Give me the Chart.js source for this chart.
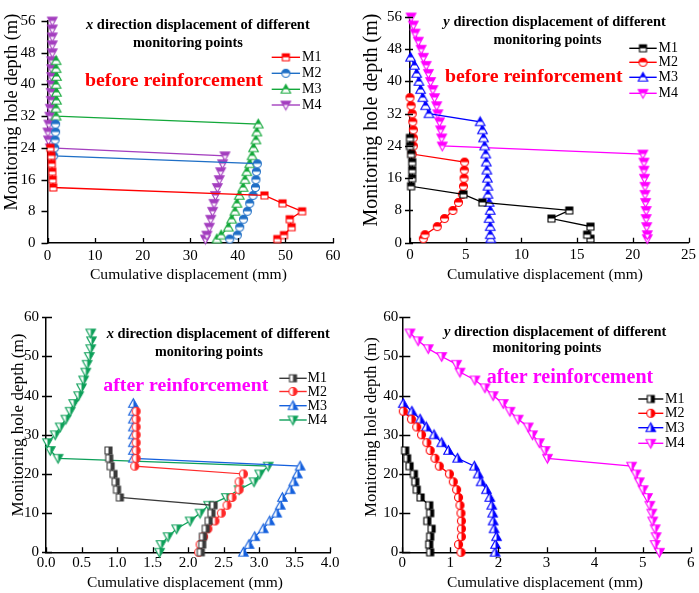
<!DOCTYPE html>
<html><head><meta charset="utf-8">
<script src="https://cdn.jsdelivr.net/npm/chart.js@4.4.1/dist/chart.umd.min.js"></script>
<style>
html,body{margin:0;padding:0;background:#fff;}
#wrap{position:relative;width:699px;height:593px;overflow:hidden;background:#fff;}
canvas{position:absolute;}
</style>
</head><body>
<div id="wrap">
<canvas id="c1"></canvas><canvas id="c2"></canvas><canvas id="c3"></canvas><canvas id="c4"></canvas>
</div>
<script>
// ---------------- DATA ----------------
const seriesNames = ['M1','M2','M3','M4'];

// Panel 1: x direction, before reinforcement
const p1Depth_M1 = [1,2,4,6,8,10,12,14,16,18,20,22,24];
const p1Disp_M1  = [48.3,49.7,51.3,50.9,53.5,49.4,45.6,1.2,1.1,1.0,0.9,0.8,0.6];
const p1Depth_M2 = [1,2,4,6,8,10,12,14,16,18,20,22,24,26,28,30];
const p1Disp_M2  = [38.3,39.9,40.4,41.2,42.0,42.5,43.2,43.7,43.8,43.9,44.1,1.3,1.5,1.6,1.7,1.7];
const p1Depth_M3 = [1,2,4,6,8,10,12,14,16,18,20,22,24,26,28,30,32,34,36,38,40,42,44,46];
const p1Disp_M3  = [35.6,36.5,38.0,38.7,39.4,39.8,40.3,41.1,41.5,41.9,42.5,43.0,43.3,43.8,44.0,44.3,1.8,1.8,1.9,1.9,1.8,1.9,1.8,1.8];
const p1Depth_M4 = [1,2,4,6,8,10,12,14,16,18,20,22,24,26,28,30,32,34,36,38,40,42,44,46,48,50,52,54,56];
const p1Disp_M4  = [33.2,33.5,34.0,34.3,34.7,35.0,35.3,35.7,36.1,36.4,36.8,37.3,0.6,0.2,0.1,0.3,0.5,0.6,0.8,0.8,0.9,0.9,0.9,0.9,1.0,1.0,1.0,1.0,1.0];

// Panel 2: y direction, before reinforcement
const p2Depth_M1 = [1,2,4,6,8,10,12,14,16,18,20,22,24,26];
const p2Disp_M1  = [16.2,15.9,16.2,12.7,14.3,6.5,4.8,0.1,0.2,0.2,0.2,0.1,0.0,0.0];
const p2Depth_M2 = [1,2,4,6,8,10,12,14,16,18,20,22,24,26,28,30,32,34,36];
const p2Disp_M2  = [1.2,1.35,2.45,3.1,3.85,4.35,4.7,4.8,4.85,4.87,4.9,0.2,0.3,0.3,0.3,0.25,0.2,0.1,0.0];
const p2Depth_M3 = [1,2,4,6,8,10,12,14,16,18,20,22,24,26,28,30,32,34,36,38,40,42,44,46];
const p2Disp_M3  = [7.25,7.2,7.2,7.1,7.2,7.1,7.0,7.0,6.95,6.9,6.85,6.8,6.7,6.6,6.5,6.3,1.7,1.4,1.15,0.95,0.8,0.6,0.4,0.05];
const p2Depth_M4 = [1,2,4,6,8,10,12,14,16,18,20,22,24,26,28,30,32,34,36,38,40,42,44,46,48,50,52,54,56];
const p2Disp_M4  = [21.3,21.3,21.25,21.2,21.2,21.15,21.1,21.1,21.05,21.0,21.0,20.9,2.9,2.85,2.75,2.65,2.5,2.4,2.2,2.05,1.85,1.65,1.45,1.2,1.0,0.75,0.45,0.3,0.1];

// Panel 3: x direction, after reinforcement
const p3Depth_M1 = [0,2,4,6,8,10,12,14,16,18,20,22,24,26];
const p3Disp_M1  = [2.18,2.2,2.21,2.25,2.29,2.33,2.36,1.04,1.0,0.98,0.95,0.91,0.89,0.88];
const p3Depth_M2 = [0,2,4,6,8,10,12,14,16,18,20,22,24,26,28,30,32,34,36];
const p3Disp_M2  = [2.15,2.17,2.22,2.28,2.38,2.47,2.55,2.62,2.72,2.72,2.78,1.25,1.27,1.27,1.27,1.27,1.27,1.27,1.27];
const p3Depth_M3 = [0,2,4,6,8,10,12,14,16,18,20,22,24,26,28,30,32,34,36,38];
const p3Disp_M3  = [2.78,2.86,2.94,3.06,3.15,3.25,3.3,3.33,3.44,3.49,3.54,3.58,1.23,1.23,1.23,1.23,1.23,1.23,1.23,1.23];
const p3Depth_M4 = [0,2,4,6,8,10,12,14,16,18,20,22,24,26,28,30,32,34,36,38,40,42,44,46,48,50,52,54,56];
const p3Disp_M4  = [1.6,1.62,1.72,1.84,2.03,2.17,2.29,2.54,2.72,2.93,3.01,3.13,0.17,0.06,0.02,0.13,0.2,0.28,0.34,0.39,0.46,0.5,0.53,0.56,0.58,0.61,0.63,0.64,0.63];

// Panel 4: y direction, after reinforcement
const p4Depth_M1 = [0,2,4,6,8,10,12,14,16,18,20,22,24,26];
const p4Disp_M1  = [0.58,0.56,0.58,0.61,0.52,0.58,0.56,0.38,0.3,0.27,0.24,0.15,0.1,0.06];
const p4Depth_M2 = [0,2,4,6,8,10,12,14,16,18,20,22,24,26,28,30,32,34,36];
const p4Disp_M2  = [1.22,1.17,1.23,1.23,1.23,1.22,1.2,1.17,1.13,1.06,0.98,0.77,0.68,0.58,0.51,0.4,0.3,0.19,0.02];
const p4Depth_M3 = [0,2,4,6,8,10,12,14,16,18,20,22,24,26,28,30,32,34,36,38];
const p4Disp_M3  = [1.93,1.94,1.96,1.91,1.89,1.88,1.86,1.82,1.75,1.64,1.58,1.5,1.15,0.96,0.82,0.66,0.5,0.37,0.2,0.02];
const p4Depth_M4 = [0,2,4,6,8,10,12,14,16,18,20,22,24,26,28,30,32,34,36,38,40,42,44,46,48,50,52,54,56];
const p4Disp_M4  = [5.35,5.26,5.28,5.26,5.21,5.19,5.15,5.1,5.01,4.93,4.86,4.77,3.02,2.97,2.85,2.71,2.62,2.41,2.24,2.1,1.89,1.72,1.51,1.2,1.13,0.82,0.54,0.33,0.16];

// Tick values
const p1XTicks = {min:0, max:60, step:10};
const p1YTicks = {min:0, max:56, step:8};
const p2XTicks = {min:0, max:25, step:5};
const p2YTicks = {min:0, max:56, step:8};
const p3XTicks = {min:0, max:4, step:0.5};
const p3YTicks = {min:0, max:60, step:10};
const p4XTicks = {min:0, max:6, step:1};
const p4YTicks = {min:0, max:60, step:10};

const xTitle = 'Cumulative displacement (mm)';
const yTitle = 'Monitoring hole depth (m)';
// -------------------------------------

const FONT = 'Liberation Serif';

function shapePath(g, shape, m, s) {
  const r = s / 2;
  g.beginPath();
  if (shape === 'square') { g.rect(m - r, m - r, s, s); }
  else if (shape === 'circle') { g.arc(m, m, r, 0, Math.PI * 2); }
  else if (shape === 'triUp') { g.moveTo(m, m - r); g.lineTo(m + r, m + r * 0.8); g.lineTo(m - r, m + r * 0.8); g.closePath(); }
  else { g.moveTo(m, m + r); g.lineTo(m + r, m - r * 0.8); g.lineTo(m - r, m - r * 0.8); g.closePath(); }
}
function makeMarker(shape, color, half) {
  const s = shape === 'square' ? 7 : (shape === 'circle' ? 8 : 9.5);
  const W = 13; const m = W / 2;
  const c = document.createElement('canvas'); c.width = W; c.height = W;
  const g = c.getContext('2d');
  g.save(); shapePath(g, shape, m, s); g.clip();
  g.fillStyle = '#fff'; g.fillRect(0, 0, W, W);
  g.fillStyle = color;
  if (half === 'top') g.fillRect(0, 0, W, m); else g.fillRect(m, 0, W, W);
  g.restore();
  shapePath(g, shape, m, s); g.strokeStyle = color; g.lineWidth = 1.1; g.stroke();
  return c;
}

function drawParts(ctx, parts, cx, cy, target, weight, color, rot) {
  let total = 0;
  parts.forEach(p => { ctx.font = (p.it ? 'italic ' : '') + weight + ' 100px "' + FONT + '"'; p.w = ctx.measureText(p.t).width; total += p.w; });
  const size = 100 * target / total;
  ctx.save();
  ctx.translate(cx, cy); if (rot) ctx.rotate(-Math.PI / 2);
  ctx.fillStyle = color; ctx.textBaseline = 'middle'; ctx.textAlign = 'left';
  let x = -target / 2;
  parts.forEach(p => { ctx.font = (p.it ? 'italic ' : '') + weight + ' ' + size + 'px "' + FONT + '"'; ctx.fillText(p.t, x, 0); x += p.w * size / 100; });
  ctx.restore();
}

const decoPlugin = {
  id: 'deco',
  afterDraw(chart, args, o) {
    const ctx = chart.ctx, xs = chart.scales.x, ys = chart.scales.y, a = chart.chartArea;
    ctx.save();
    ctx.strokeStyle = '#000'; ctx.lineWidth = 1.3;
    ctx.beginPath();
    ys.ticks.forEach(t => { const py = Math.round(ys.getPixelForValue(t.value)) + 0.5; ctx.moveTo(a.left - o.yt[0], py); ctx.lineTo(a.left + o.yt[1], py); });
    xs.ticks.forEach(t => { const px = Math.round(xs.getPixelForValue(t.value)) + 0.5; ctx.moveTo(px, a.bottom - o.xt[0]); ctx.lineTo(px, a.bottom + o.xt[1]); });
    ctx.stroke();
    ctx.translate(-o.ox, -o.oy);
    // titles
    drawParts(ctx, [{t: o.dir, it: true}, {t: ' direction displacement of different'}], o.t1[0], o.t1[1], o.t1[2], 'bold', '#000');
    drawParts(ctx, [{t: 'monitoring points'}], o.t2[0], o.t2[1], o.t2[2], 'bold', '#000');
    drawParts(ctx, [{t: o.note}], o.n[0], o.n[1], o.n[2], 'bold', o.noteColor);
    drawParts(ctx, [{t: xTitle}], o.xl[0], o.xl[1], o.xl[2], 'normal', '#000');
    drawParts(ctx, [{t: yTitle}], o.yl[0], o.yl[1], o.yl[2], 'normal', '#000', true);
    // legend
    chart.data.datasets.forEach((ds, i) => {
      const y = o.lg.ys[i];
      ctx.strokeStyle = ds.borderColor; ctx.lineWidth = 1.4;
      ctx.beginPath(); ctx.moveTo(o.lg.x1, y); ctx.lineTo(o.lg.x2, y); ctx.stroke();
      const img = ds.pointStyle;
      ctx.drawImage(img, (o.lg.x1 + o.lg.x2) / 2 - img.width / 2, y - img.height / 2);
      ctx.fillStyle = '#000'; ctx.font = '14px "' + FONT + '"'; ctx.textBaseline = 'middle'; ctx.textAlign = 'left';
      ctx.fillText(ds.label, o.lg.tx, y + 0.5);
    });
    ctx.restore();
  }
};

const shapes = ['square', 'circle', 'triUp', 'triDown'];

function makePanel(id, P) {
  const cv = document.getElementById(id);
  cv.width = P.w; cv.height = P.h;
  cv.style.left = P.left + 'px'; cv.style.top = P.top + 'px';
  const datasets = P.series.map((s, i) => ({
    label: seriesNames[i],
    data: s[0].map((d, k) => ({x: s[1][k], y: d})),
    showLine: true, borderColor: P.colors[i], backgroundColor: P.colors[i], borderWidth: 1.3,
    pointStyle: makeMarker(shapes[i], P.colors[i], P.half), pointRadius: 4.5, clip: false
  }));
  const tickFont = {family: FONT, size: 15};
  new Chart(cv, {
    type: 'scatter',
    data: {datasets},
    options: {
      responsive: false, animation: false,
      layout: {padding: {left: 0, bottom: 0, top: P.area.t - P.top, right: P.left + P.w - P.area.r}},
      plugins: {legend: {display: false}, tooltip: {enabled: false},
        deco: Object.assign({ox: P.left, oy: P.top}, P.deco)},
      scales: {
        x: {type: 'linear', min: P.xt.min, max: P.xt.max,
          ticks: {stepSize: P.xt.step, autoSkip: false, maxRotation: 0, padding: P.xpad, color: '#000', font: tickFont,
            callback: v => P.xfmt ? v.toFixed(1) : String(v)},
          grid: {display: false, drawTicks: false}, border: {display: true, color: '#000', width: 1.5},
          afterFit: s => { s.height = P.top + P.h - P.area.b; }},
        y: {type: 'linear', min: P.yt.min, max: P.yt.max,
          ticks: {stepSize: P.yt.step, autoSkip: false, padding: P.ypad, color: '#000', font: tickFont},
          grid: {display: false, drawTicks: false}, border: {display: true, color: '#000', width: 1.5},
          afterFit: s => { s.width = P.area.l - P.left; }}
      }
    },
    plugins: [decoPlugin]
  });
}

makePanel('c1', {
  left: 0, top: 0, w: 350, h: 296, area: {l: 47.5, r: 333, t: 9.3, b: 243},
  xt: p1XTicks, yt: p1YTicks, xpad: 4, ypad: 12, half: 'top',
  colors: ['#ff0000', '#1f6fc6', '#13a83a', '#a43fbf'],
  series: [[p1Depth_M1, p1Disp_M1], [p1Depth_M2, p1Disp_M2], [p1Depth_M3, p1Disp_M3], [p1Depth_M4, p1Disp_M4]],
  deco: {dir: 'x', note: 'before reinforcement', noteColor: '#ff0000', yt: [6, 0], xt: [5, 0],
    t1: [198, 25, 224], t2: [188, 43, 110], n: [174, 81, 178], xl: [188.5, 275, 197], yl: [11.7, 112, 197],
    lg: {x1: 271.7, x2: 300, tx: 302, ys: [57.3, 73.3, 89.3, 105]}}
});
makePanel('c2', {
  left: 350, top: 0, w: 349, h: 296, area: {l: 410, r: 689, t: 9.3, b: 242.7},
  xt: p2XTicks, yt: p2YTicks, xpad: 3, ypad: 8, half: 'top',
  colors: ['#000000', '#ff0000', '#0000ff', '#ff00ff'],
  series: [[p2Depth_M1, p2Disp_M1], [p2Depth_M2, p2Disp_M2], [p2Depth_M3, p2Disp_M3], [p2Depth_M4, p2Disp_M4]],
  deco: {dir: 'y', note: 'before reinforcement', noteColor: '#ff0000', yt: [5, 3], xt: [5, 0],
    t1: [554.7, 22.7, 222.7], t2: [547.5, 40, 108], n: [533.8, 76.7, 177.7], xl: [545, 275, 196], yl: [371.7, 120, 213],
    lg: {x1: 629.3, x2: 656.7, tx: 658.5, ys: [48.3, 62.3, 77.3, 93.3]}}
});
makePanel('c3', {
  left: 0, top: 296, w: 350, h: 297, area: {l: 46, r: 330, t: 317.3, b: 552.3},
  xt: p3XTicks, yt: p3YTicks, xpad: 2, ypad: 7, half: 'right', xfmt: true,
  colors: ['#3a3a3a', '#ff2a2a', '#1560dd', '#0ea05a'],
  series: [[p3Depth_M1, p3Disp_M1], [p3Depth_M2, p3Disp_M2], [p3Depth_M3, p3Disp_M3], [p3Depth_M4, p3Disp_M4]],
  deco: {dir: 'x', note: 'after reinforcement', noteColor: '#ff00ff', yt: [4, 6], xt: [5, 0],
    t1: [218.3, 334.3, 223.3], t2: [209, 352.3, 108], n: [185.8, 386, 165], xl: [185, 582.7, 196], yl: [18.3, 425, 183],
    lg: {x1: 279.3, x2: 306.7, tx: 307.5, ys: [378.3, 391.5, 405.7, 420]}}
});
makePanel('c4', {
  left: 350, top: 296, w: 349, h: 297, area: {l: 402.3, r: 690.7, t: 317.3, b: 552.3},
  xt: p4XTicks, yt: p4YTicks, xpad: 2, ypad: 4, half: 'right',
  colors: ['#000000', '#ff0000', '#0000ff', '#ff00ff'],
  series: [[p4Depth_M1, p4Disp_M1], [p4Depth_M2, p4Disp_M2], [p4Depth_M3, p4Disp_M3], [p4Depth_M4, p4Disp_M4]],
  deco: {dir: 'y', note: 'after reinforcement', noteColor: '#ff00ff', yt: [3, 8], xt: [5, 0],
    t1: [555.3, 332.3, 222.7], t2: [547, 348.3, 109], n: [570, 378.3, 166.7], xl: [545, 582.7, 196], yl: [371.7, 427, 180],
    lg: {x1: 638.3, x2: 663.3, tx: 665, ys: [399, 413.3, 427.7, 443.3]}}
});
</script>
</body></html>
